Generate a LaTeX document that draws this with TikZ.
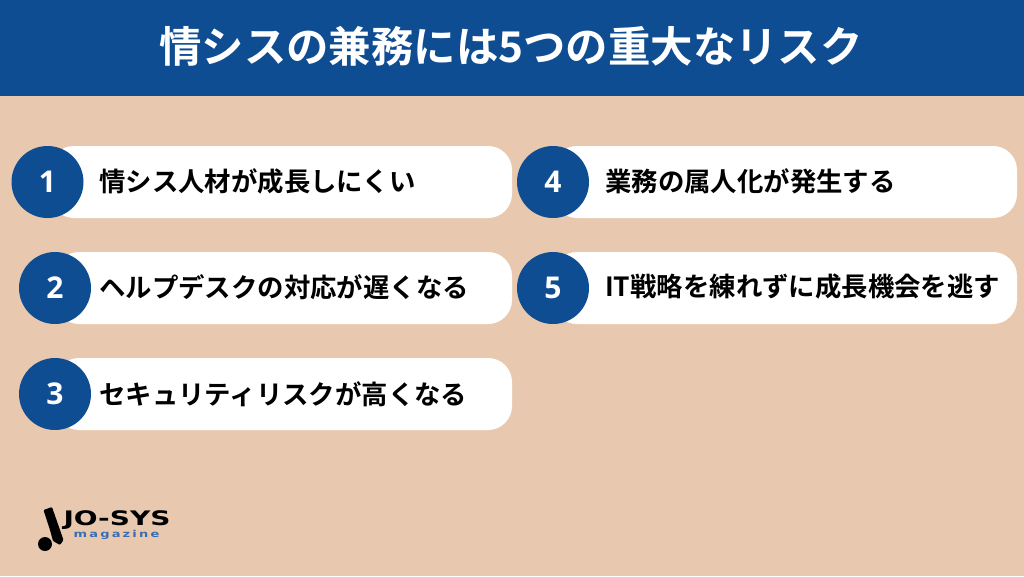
\documentclass[tikz,border=0pt]{standalone}
\usepackage{fontspec}
\setmainfont{Noto Sans CJK JP}[BoldFont={* Bold}]
\newfontfamily\numfont{Open Sans}
\newfontfamily\logofont{DejaVu Sans}
\usepackage{xcolor}
\usetikzlibrary{positioning}
\definecolor{headblue}{HTML}{0F4D92}
\definecolor{sandbg}{HTML}{E8C9B0}
\definecolor{magblue}{HTML}{3A6DB0}
\tikzset{
  pill/.style={fill=white,rounded corners=24pt,minimum height=72pt,inner sep=0pt},
  numdot/.style={circle,fill=headblue,text=white,minimum size=72pt,inner sep=0pt,font=\fontsize{30pt}{30pt}\numfont\bfseries},
  itemtext/.style={anchor=west,inner sep=0pt,font=\fontsize{26.4pt}{28pt}\bfseries},
}
\begin{document}
\begin{tikzpicture}[x=1pt,y=-1pt]
  \useasboundingbox (0,0) rectangle (1024,576);
  \fill[sandbg] (0,0) rectangle (1024,576);
  \fill[headblue] (0,0) rectangle (1024,96);
  \node[text=white,font=\fontsize{42.4pt}{44pt}\bfseries] (title) at (511,46) {情シスの兼務には5つの重大なリスク};

  \node[pill,minimum width=462pt] (pill1) at (281,182) {};
  \node[numdot] (num1) at (47.5,182) {1};
  \node[itemtext] (text1) at (99,181) {情シス人材が成長しにくい};

  \node[pill,minimum width=457pt] (pill2) at (283.5,288) {};
  \node[numdot] (num2) at (55,288) {2};
  \node[itemtext] (text2) at (99,287) {ヘルプデスクの対応が遅くなる};

  \node[pill,minimum width=457pt] (pill3) at (283.5,394) {};
  \node[numdot] (num3) at (55,394) {3};
  \node[itemtext] (text3) at (99,394) {セキュリティリスクが高くなる};

  \node[pill,minimum width=464pt] (pill4) at (785,182) {};
  \node[numdot] (num4) at (553,182) {4};
  \node[itemtext] (text4) at (605,181) {業務の属人化が発生する};

  \node[pill,minimum width=464pt] (pill5) at (785,288) {};
  \node[numdot] (num5) at (553,288) {5};
  \node[itemtext] (text5) at (605,287) {IT戦略を練れずに成長機会を逃す};

  % logo
  \fill[black] (45,544) circle (7);
  \fill[black,rounded corners=1pt] (43.5,510) -- (52,507) -- (63.5,540) -- (60,545) -- (53,541) -- (50,530) -- cycle;
  \node[inner sep=0pt,font=\fontsize{20pt}{20pt}\logofont\bfseries,xscale=1.4] (logoname) at (117,520.5) {JO-SYS};
  \node[inner sep=0pt,text=magblue,font=\fontsize{9.5pt}{10pt}\logofont\bfseries,xscale=1.37] (logosub) at (116.5,535) {m\,a\,g\,a\,z\,i\,n\,e};
\end{tikzpicture}
\end{document}
